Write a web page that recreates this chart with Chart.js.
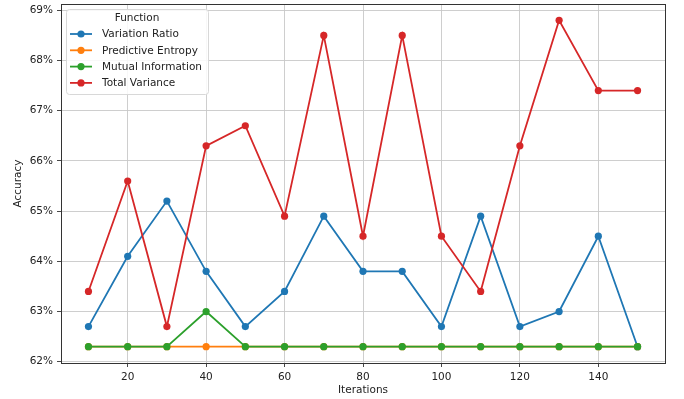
<!DOCTYPE html>
<html>
<head>
<meta charset="utf-8">
<script src="https://cdn.jsdelivr.net/npm/chart.js@4.4.0/dist/chart.umd.min.js"></script>
<style>
  html, body { margin: 0; padding: 0; background: #fff; }
</style>
</head>
<body>
<canvas id="accChart" width="684" height="399"></canvas>
<script>
const iterations = [10, 20, 30, 40, 50, 60, 70, 80, 90, 100, 110, 120, 130, 140, 150];
const variationRatio = [62.7, 64.1, 65.2, 63.8, 62.7, 63.4, 64.9, 63.8, 63.8, 62.7, 64.9, 62.7, 63.0, 64.5, 62.3];
const predictiveEntropy = [62.3, 62.3, 62.3, 62.3, 62.3, 62.3, 62.3, 62.3, 62.3, 62.3, 62.3, 62.3, 62.3, 62.3, 62.3];
const mutualInformation = [62.3, 62.3, 62.3, 63.0, 62.3, 62.3, 62.3, 62.3, 62.3, 62.3, 62.3, 62.3, 62.3, 62.3, 62.3];
const totalVariance = [63.4, 65.6, 62.7, 66.3, 66.7, 64.9, 68.5, 64.5, 68.5, 64.5, 63.4, 66.3, 68.8, 67.4, 67.4];
const xTicks = [20, 40, 60, 80, 100, 120, 140];
const yTicks = [62, 63, 64, 65, 66, 67, 68, 69];

const seriesNames = ['Variation Ratio', 'Predictive Entropy', 'Mutual Information', 'Total Variance'];
const seriesColors = ['#1f77b4', '#ff7f0e', '#2ca02c', '#d62728'];
const seriesValues = [variationRatio, predictiveEntropy, mutualInformation, totalVariance];

const FONT = 'DejaVu Sans';

function makeDataset(i) {
  return {
    label: seriesNames[i],
    data: iterations.map((x, k) => ({ x: x, y: seriesValues[i][k] })),
    borderColor: seriesColors[i],
    backgroundColor: seriesColors[i],
    pointBackgroundColor: seriesColors[i],
    pointBorderColor: seriesColors[i],
    borderWidth: 1.8,
    pointRadius: 3.6,
    pointBorderWidth: 0,
    tension: 0,
    order: 3 - i  // later series drawn on top, like matplotlib
  };
}

// box around the plot and matplotlib-like legend
const framePlugin = {
  id: 'frame',
  afterDraw(chart) {
    const ctx = chart.ctx;
    const a = chart.chartArea;
    ctx.save();
    ctx.strokeStyle = '#333';
    ctx.lineWidth = 1;
    ctx.strokeRect(a.left + 0.5, a.top + 0.5, a.right - a.left, a.bottom - a.top);

    // legend
    const bx = 66, by = 9, bw = 142, bh = 85;
    ctx.fillStyle = 'rgba(255,255,255,0.85)';
    ctx.strokeStyle = '#d8d8d8';
    ctx.beginPath();
    ctx.roundRect(bx + 0.5, by + 0.5, bw, bh, 3);
    ctx.fill();
    ctx.stroke();

    ctx.fillStyle = '#222';
    ctx.font = '10.5px ' + FONT;
    ctx.textBaseline = 'middle';
    ctx.textAlign = 'center';
    ctx.fillText('Function', bx + bw / 2, by + 9.5);
    ctx.textAlign = 'left';
    chart.data.datasets.forEach((ds, i) => {
      const y = by + 25 + i * 16.3;
      ctx.strokeStyle = ds.borderColor;
      ctx.lineWidth = 1.8;
      ctx.beginPath();
      ctx.moveTo(70, y);
      ctx.lineTo(92, y);
      ctx.stroke();
      ctx.fillStyle = ds.borderColor;
      ctx.beginPath();
      ctx.arc(81, y, 3.6, 0, Math.PI * 2);
      ctx.fill();
      ctx.fillStyle = '#222';
      ctx.fillText(ds.label, 102, y + 0.5);
    });
    ctx.restore();
  }
};

new Chart(document.getElementById('accChart'), {
  type: 'line',
  data: {
    datasets: [0, 1, 2, 3].map(makeDataset)
  },
  options: {
    responsive: false,
    devicePixelRatio: 1,
    animation: false,
    layout: { padding: { left: 8, right: 19, top: 4, bottom: 2 } },
    plugins: {
      legend: { display: false },
      tooltip: { enabled: false }
    },
    scales: {
      x: {
        type: 'linear',
        min: 3,
        max: 157,
        afterBuildTicks: axis => { axis.ticks = xTicks.map(v => ({ value: v })); },
        afterFit: scale => { scale.height = 34; scale.paddingLeft = 0; scale.paddingRight = 0; },
        grid: { color: '#c8c8c8', lineWidth: 0.9, tickColor: '#333', tickLength: 4 },
        border: { color: '#333', width: 1 },
        ticks: { color: '#222', font: { family: FONT, size: 10.5 }, padding: 4, maxRotation: 0 },
        title: { display: true, text: 'Iterations', color: '#222', font: { family: FONT, size: 10.5 }, padding: { top: 3, bottom: 0 } }
      },
      y: {
        min: 61.975,
        max: 69.125,
        afterBuildTicks: axis => { axis.ticks = yTicks.map(v => ({ value: v })); },
        afterFit: scale => { scale.width = 53; scale.paddingTop = 0; scale.paddingBottom = 0; },
        grid: { color: '#c8c8c8', lineWidth: 0.9, tickColor: '#333', tickLength: 4 },
        border: { color: '#333', width: 1 },
        ticks: { color: '#222', font: { family: FONT, size: 10.5 }, padding: 4, callback: v => v + '%' },
        title: { display: true, text: 'Accuracy', color: '#222', font: { family: FONT, size: 10.5 }, padding: { top: 4, bottom: 0 } }
      }
    }
  },
  plugins: [framePlugin]
});
</script>
</body>
</html>
